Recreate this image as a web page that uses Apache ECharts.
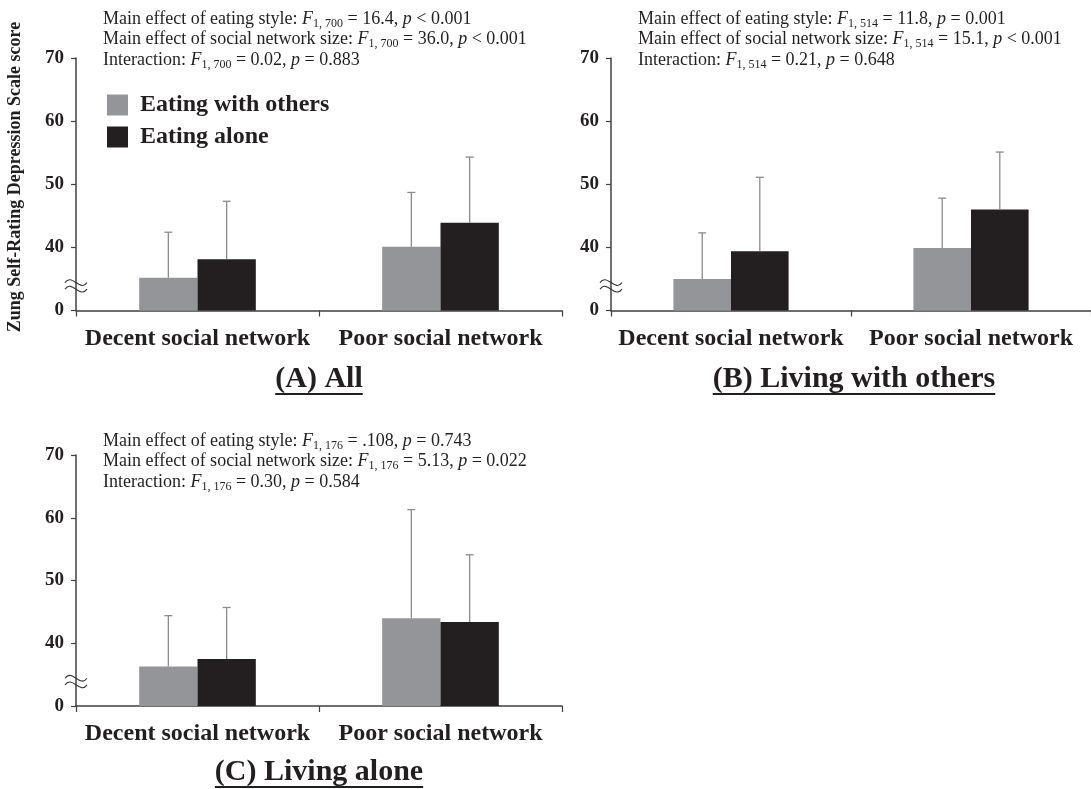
<!DOCTYPE html>
<html><head><meta charset="utf-8">
<script src="https://cdn.jsdelivr.net/npm/echarts@6/dist/echarts.min.js"></script>
<style>html,body{margin:0;padding:0;background:#fff}#c{width:1091px;height:789px}</style>
</head><body><div id="c"></div>
<script>
// ---------------- data ----------------
const categories = ['Decent social network', 'Poor social network'];
const seriesNames = ['Eating with others', 'Eating alone'];
const yTicks = [30, 40, 50, 60, 70];
const yTickLabels = ['0', '40', '50', '60', '70'];
const breakValue = 33.9;

// (A) All
const allWithOthers = [35.2, 40.1];
const allWithOthersErr = [42.4, 48.7];
const allAlone = [38.1, 43.9];
const allAloneErr = [47.3, 54.3];
// (B) Living with others
const livWithOthersWithOthers = [35.0, 39.9];
const livWithOthersWithOthersErr = [42.3, 47.8];
const livWithOthersAlone = [39.4, 46.0];
const livWithOthersAloneErr = [51.1, 55.1];
// (C) Living alone
const livAloneWithOthers = [36.3, 44.0];
const livAloneWithOthersErr = [44.4, 61.3];
const livAloneAlone = [37.5, 43.4];
const livAloneAloneErr = [45.7, 54.1];

const panelTitles = ['(A) All', '(B) Living with others', '(C) Living alone'];
const yAxisTitle = 'Zung Self-Rating Depression Scale score';
const statLabels = ['Main effect of eating style: ', 'Main effect of social network size: ', 'Interaction: '];
const statDf = ['1, 700', '1, 514', '1, 176'];
const statF = [['16.4', '36.0', '0.02'], ['11.8', '15.1', '0.21'], ['.108', '5.13', '0.30']];
const statP = [['< 0.001', '< 0.001', '= 0.883'], ['= 0.001', '< 0.001', '= 0.648'], ['= 0.743', '= 0.022', '= 0.584']];

// ---------------- layout ----------------
const SERIF = 'Liberation Serif';
const INK = '#231f20';
const AXIS = '#404040';
const GRAY = '#939598';
const ERR = '#8c8c8c';
const grids = [
  {left: 76, top: 58, width: 486, height: 252.5},
  {left: 611, top: 58, width: 486, height: 252.5},
  {left: 76, top: 455, width: 486, height: 251}
];
const panels = [
  {w: allWithOthers, we: allWithOthersErr, a: allAlone, ae: allAloneErr},
  {w: livWithOthersWithOthers, we: livWithOthersWithOthersErr, a: livWithOthersAlone, ae: livWithOthersAloneErr},
  {w: livAloneWithOthers, we: livAloneWithOthersErr, a: livAloneAlone, ae: livAloneAloneErr}
];
const statPos = [[103, 9], [638, 9], [103, 431]];
const titlePos = [[319, 379], [854, 379], [319, 772]];

const chart = echarts.init(document.getElementById('c'), null, {renderer: 'canvas'});

const xAxes = [], yAxes = [], series = [];
grids.forEach((g, i) => {
  xAxes.push({
    gridIndex: i, type: 'category', data: categories,
    axisLine: {lineStyle: {color: AXIS, width: 1.5}},
    axisTick: {show: true, length: 6, lineStyle: {color: AXIS, width: 1.2}},
    axisLabel: {fontFamily: SERIF, fontWeight: 'bold', fontSize: 24, color: INK, margin: 16, interval: 0}
  });
  yAxes.push({
    gridIndex: i, type: 'value', min: yTicks[0], max: yTicks[yTicks.length - 1], interval: 10,
    axisLine: {show: true, lineStyle: {color: AXIS, width: 1.5}},
    axisTick: {show: true, length: 5, lineStyle: {color: AXIS, width: 1.2}},
    splitLine: {show: false},
    axisLabel: {fontFamily: SERIF, fontWeight: 'bold', fontSize: 19, color: INK, margin: 12,
      formatter: v => yTickLabels[yTicks.indexOf(v)]}
  });
  const p = panels[i];
  series.push({
    name: seriesNames[0], type: 'bar', xAxisIndex: i, yAxisIndex: i,
    data: p.w, barWidth: '24%', barGap: '0%', itemStyle: {color: GRAY}, z: 2
  });
  series.push({
    name: seriesNames[1], type: 'bar', xAxisIndex: i, yAxisIndex: i,
    data: p.a, barWidth: '24%', barGap: '0%', itemStyle: {color: INK}, z: 2
  });
  const errData = [];
  categories.forEach((c, k) => {
    errData.push([k, p.we[k], p.w[k], -1]);
    errData.push([k, p.ae[k], p.a[k], 1]);
  });
  series.push({
    type: 'custom', xAxisIndex: i, yAxisIndex: i, z: 5, silent: true,
    encode: {x: 0, y: 1},
    data: errData,
    renderItem: (params, api) => {
      const ci = api.value(0), top = api.value(1), base = api.value(2), side = api.value(3);
      const band = api.size([1, 0])[0];
      const ct = api.coord([ci, top]);
      const cb = api.coord([ci, base]);
      const x = ct[0] + side * band * 0.12;
      const st = {stroke: ERR, lineWidth: 1.3};
      return {type: 'group', children: [
        {type: 'line', shape: {x1: x, y1: cb[1], x2: x, y2: ct[1]}, style: st},
        {type: 'line', shape: {x1: x - 4, y1: ct[1], x2: x + 4, y2: ct[1]}, style: st}
      ]};
    }
  });
});

chart.setOption({
  animation: false,
  backgroundColor: '#fff',
  grid: grids,
  xAxis: xAxes,
  yAxis: yAxes,
  legend: {
    data: seriesNames, orient: 'vertical', left: 102, top: 88,
    itemWidth: 21, itemHeight: 21, itemGap: 8, icon: 'rect',
    textStyle: {fontFamily: SERIF, fontWeight: 'bold', fontSize: 24, color: INK, padding: [0, 0, 0, 7]}
  },
  series: series
});

// ---------------- annotations ----------------
const measure = document.createElement('canvas').getContext('2d');
const graphics = [];
const rich = {
  n: {fontFamily: SERIF, fontSize: 18, lineHeight: 20.5, fill: INK},
  i: {fontFamily: SERIF, fontSize: 18, fontStyle: 'italic', lineHeight: 20.5, fill: INK},
  s: {fontFamily: SERIF, fontSize: 12, lineHeight: 10, verticalAlign: 'bottom', fill: INK}
};
grids.forEach((g, i) => {
  const lines = statLabels.map((lab, k) =>
    '{n|' + lab + '}{i|F}{s|' + statDf[i] + '}{n| = ' + statF[i][k] + ', }{i|p}{n| ' + statP[i][k] + '}');
  graphics.push({
    type: 'text', x: statPos[i][0], y: statPos[i][1],
    style: {text: lines.join('\n'), rich: rich, fontFamily: SERIF, fontSize: 18, fill: INK,
      align: 'left', verticalAlign: 'top'}
  });
  // title with underline
  const font = 'bold 30px "' + SERIF + '"';
  measure.font = font;
  const w = measure.measureText(panelTitles[i]).width;
  const [tx, ty] = titlePos[i];
  graphics.push({
    type: 'text', x: tx, y: ty,
    style: {text: panelTitles[i], fontFamily: SERIF, fontWeight: 'bold', fontSize: 30, fill: INK,
      align: 'center', verticalAlign: 'middle'}
  });
  graphics.push({
    type: 'line', shape: {x1: tx - w / 2, y1: ty + 15, x2: tx + w / 2, y2: ty + 15},
    style: {stroke: INK, lineWidth: 1.8}
  });
  // axis break symbol
  const by = chart.convertToPixel({yAxisIndex: i}, breakValue);
  const bx = g.left;
  [-3.3, 3.3].forEach(dy => {
    graphics.push({
      type: 'bezierCurve',
      shape: {x1: bx - 11, y1: by + dy, cpx1: bx - 4, cpy1: by + dy - 10, cpx2: bx + 4, cpy2: by + dy + 10, x2: bx + 11, y2: by + dy},
      style: {stroke: '#333', lineWidth: 1.1, fill: null}, z: 10
    });
  });
});
graphics.push({
  type: 'text', x: 15, y: 177, rotation: Math.PI / 2,
  style: {text: yAxisTitle, fontFamily: SERIF, fontWeight: 'bold', fontSize: 18, fill: INK,
    align: 'center', verticalAlign: 'middle'}
});
chart.setOption({graphic: graphics});
</script>
</body></html>
